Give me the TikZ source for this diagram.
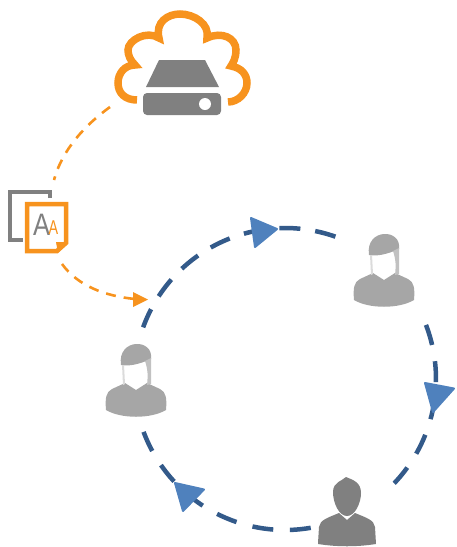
\documentclass[tikz,border=0pt]{standalone}
\usepackage{fontspec}
\setmainfont{Liberation Sans}
\definecolor{org}{HTML}{F7931E}
\definecolor{gry}{HTML}{808080}
\definecolor{lgry}{HTML}{A6A6A6}
\definecolor{cyc}{HTML}{335A8A}
\definecolor{cychead}{HTML}{4F81BD}
\tikzset{
 cycline/.style={draw=cyc,line width=4.5pt},
 cyctip/.style={fill=cychead,draw=cychead,line width=2pt,line join=round},
 feedline/.style={draw=org,line width=2.6pt,dash pattern=on 10pt off 8pt},
 female/.pic={
  \fill[lgry] (-30,30) .. controls (-31,18) and (-30,12) .. (-24,9) -- (-11,3) -- (0,10) -- (11,3) -- (24,9) .. controls (30,12) and (31,18) .. (30,30) .. controls (15,39) and (-15,39) .. (-30,30) -- cycle;
  \fill[lgry] (-15,-15) .. controls (-19,-42) and (18,-42) .. (15,-21) .. controls (8,-18) and (-4,-13) .. (-15,-15) -- cycle;
  \fill[lgry!70] (9,-19) -- (15,-22) -- (15,4) -- (11,5) .. controls (12,-4) and (12,-10) .. (9,-19) -- cycle;
  \fill[lgry!40] (-14,-15) -- (-12,-15) -- (-11,4) -- (-13,5) -- cycle;
 },
 male/.pic={
  \fill[gry] (-29,30) -- (-28,14) .. controls (-27,7) and (-20,5) .. (-8,0) -- (0,7) -- (8,0) .. controls (20,5) and (27,7) .. (28,14) -- (29,31) .. controls (10,34) and (-10,34) .. (-29,31) -- cycle;
  \fill[gry] (-14,-21) .. controls (-14,-31) and (-5,-32) .. (-1,-36) .. controls (6,-33) and (14,-31) .. (14,-20) .. controls (14,-10) and (8,3) .. (0,3) .. controls (-8,3) and (-14,-10) .. (-14,-21) -- cycle;
 }
}
\begin{document}
\begin{tikzpicture}[x=1pt,y=-1pt]
\useasboundingbox (0,0) rectangle (456,547);
% cloud
\draw[org,line width=7.5pt] (137,100) .. controls (125,100) and (118,93) .. (118,83) .. controls (118,73) and (125,65) .. (135,65) .. controls (130,60) and (128,55) .. (128,50) .. controls (128,40) and (147,30) .. (159,38) .. controls (155,22) and (168,14) .. (180,14) .. controls (194,14) and (210,24) .. (207,38) .. controls (222,31) and (236,38) .. (236,50) .. controls (236,58) and (233,63) .. (231,66) .. controls (242,68) and (247,75) .. (247,83) .. controls (247,93) and (238,102) .. (228,102);
\fill[gry] (159,60) -- (205,60) -- (219,87) -- (146,87) -- cycle;
\fill[gry,rounded corners=4pt] (143,93) rectangle (221,115);
\fill[white] (205,104) circle (6);
% document
\draw[gry,line width=3.5pt] (50,198) -- (50,192) -- (10,192) -- (10,240) -- (23,240);
\draw[org,line width=4.5pt,fill=white] (27,204) -- (66,204) -- (66,243) -- (57,251) -- (27,251) -- cycle;
\fill[org] (56,242) -- (68,242) -- (58,253) -- cycle;
\node[text=gry,font=\fontsize{31}{31}\selectfont,inner sep=0pt,xscale=.82,transform shape] (bigA) at (41.5,224.5) {A};
\node[text=org,font=\fontsize{20}{20}\selectfont,inner sep=0pt,xscale=.72,transform shape] (smallA) at (53.5,228) {A};
% feeds
\coordinate (fa) at (110,107);
\coordinate (fb) at (54,180);
\coordinate (ga) at (62,264);
\coordinate (gb) at (135,299);
\draw[feedline] (fa) .. controls (85,125) and (62,150) .. (fb);
\draw[feedline] (ga) .. controls (78,286) and (105,296) .. (gb);
\fill[org] (133,292) -- (148,299.5) -- (133,307) -- cycle;
% cycle
\draw[cycline,dash pattern=on 21pt off 15pt] plot[smooth,samples=40,domain=70.5:160] ({285+151*cos(\x)},{379-151*sin(\x)});
\draw[cycline,dash pattern=on 21pt off 16.5pt] plot[smooth,samples=40,domain=21:-43.7] ({285+151*cos(\x)},{379-151*sin(\x)});
\draw[cycline,dash pattern=on 21pt off 16.6pt] plot[smooth,samples=40,domain=-159.5:-80] ({285+151*cos(\x)},{379-151*sin(\x)});
\draw[cyctip] (251,218) -- (277,229) -- (255,247) -- cycle;
\draw[cyctip] (425,383) -- (454,388.5) -- (433,412) -- cycle;
\draw[cyctip] (175,483) -- (204,489.5) -- (183,511) -- cycle;
% people
\pic at (136,380) {female};
\pic at (384,270) {female};
\pic at (347,513) {male};
\end{tikzpicture}
\end{document}
